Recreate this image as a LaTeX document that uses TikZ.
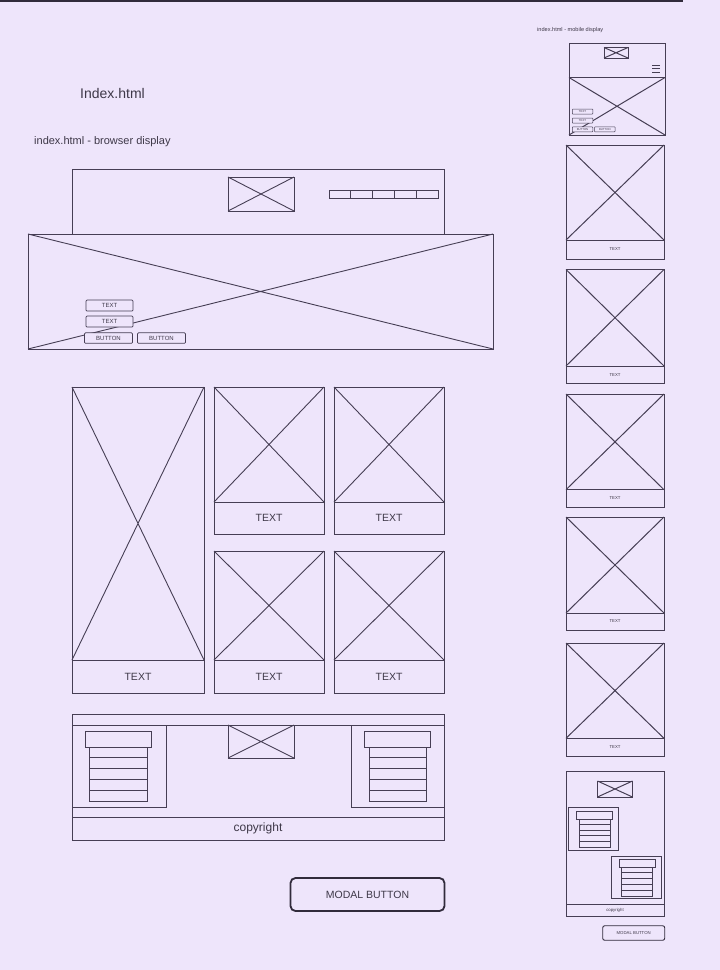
\documentclass[tikz,border=0pt]{standalone}
\usepackage{fontspec}
\setmainfont{Liberation Sans}
\definecolor{bg}{RGB}{238,229,251}
\definecolor{ln}{RGB}{70,62,84}
\definecolor{tx}{RGB}{62,56,72}
\tikzset{
  wf/.style={draw=ln, line width=0.9pt},
  mwf/.style={draw=ln, line width=1pt},
  wfthin/.style={draw=ln, line width=0.7pt},
  lbl/.style={font=\fontsize{10.5}{12}\selectfont, text=tx, inner sep=0},
  tinylbl/.style={font=\fontsize{4.3}{5}\selectfont, text=tx, inner sep=0},
  sbox/.style={draw=ln, line width=0.7pt, fill=bg, rounded corners=1pt,
    font=\fontsize{6}{7}\selectfont, text=tx, inner sep=0},
  msbox/.style={draw=ln, line width=0.5pt, fill=bg, rounded corners=0.6pt,
    font=\fontsize{2.8}{3}\selectfont, text=tx, inner sep=0},
}
% image box with a cross
\newcommand\wfXbox[5][wf]{%
  \draw[#1] (#2,#3) rectangle (#4,#5);
  \draw[#1] (#2,#3) -- (#4,#5) (#2,#5) -- (#4,#3);}
% card: x1,y1,x2,ydiv,y2,label style,name
\newcommand\wfCard[8][wf]{%
  \draw[#1] (#2,#3) rectangle (#4,#6);
  \draw[#1] (#2,#5) -- (#4,#5);
  \draw[#1] (#2,#3) -- (#4,#5) (#2,#5) -- (#4,#3);
  \node[#7] (#8) at ({(#2+#4)/2},{(#5+#6)/2}) {TEXT};}
% widget: capx1,capx2,capy1,capy2,stackx1,stackx2,stacky2,style
\newcommand\wfWidget[8]{%
  \draw[#8] (#1,#3) rectangle (#2,#4);
  \draw[#8] (#5,#4) rectangle (#6,#7);
  \foreach \k in {1,...,4}{\draw[#8] (#5,{#4+\k*(#7-#4)/5}) -- (#6,{#4+\k*(#7-#4)/5});}}
\begin{document}
\begin{tikzpicture}[x=1pt,y=-1pt]
\useasboundingbox (0,0) rectangle (720,970);
\fill[bg] (0,0) rectangle (720,970);
\draw[line width=1.6pt, ln!70!black] (0,1) -- (683,1);

% titles
\node[font=\fontsize{14}{16}\selectfont, text=tx, anchor=west, inner sep=0] (title) at (80,93) {Index.html};
\node[font=\fontsize{11}{13}\selectfont, text=tx, anchor=west, inner sep=0] (browser) at (34,142) {index.html - browser display};
\node[font=\fontsize{5.6}{6}\selectfont, text=tx, anchor=west, inner sep=0] (mobile) at (537,30) {index.html - mobile display};

% ===== browser header
\draw[wf] (72,169) rectangle (444,234);
\wfXbox{228}{177}{294}{211}
\foreach \i in {0,...,4}{\draw[wf] ({329+\i*21.9},190) rectangle ({329+(\i+1)*21.9},198);}
% hero
\wfXbox{28}{234}{493}{349}
\node[sbox, minimum width=47pt, minimum height=11pt] (ht1) at (109.5,305.5) {TEXT};
\node[sbox, minimum width=47pt, minimum height=11pt] (ht2) at (109.5,321.5) {TEXT};
\node[sbox, minimum width=48pt, minimum height=10.5pt] (hb1) at (108.5,338) {BUTTON};
\node[sbox, minimum width=48pt, minimum height=10.5pt] (hb2) at (161.5,338) {BUTTON};

% ===== grid
\wfCard{72}{387}{204}{660}{693}{lbl}{c1}
\wfCard{214}{387}{324}{502}{534}{lbl}{c2}
\wfCard{334}{387}{444}{502}{534}{lbl}{c3}
\wfCard{214}{551}{324}{660}{693}{lbl}{c4}
\wfCard{334}{551}{444}{660}{693}{lbl}{c5}

% ===== footer
\draw[wf] (72,714) rectangle (444,840);
\draw[wf] (72,725) -- (444,725);
\draw[wf] (72,817) -- (444,817);
\draw[wf] (72,725) rectangle (166,807);
\draw[wf] (351,725) rectangle (444,807);
\wfXbox{228}{725}{294}{758}
\wfWidget{85.5}{151.5}{731}{747}{89.5}{147.5}{801.5}{wf}
\wfWidget{364.5}{430.5}{731}{747}{369}{426.5}{801.5}{wf}
\node[font=\fontsize{12}{14}\selectfont, text=tx, inner sep=0] (copy) at (258,828.5) {copyright};

% modal button
\node[draw=ln!70!black, line width=1.8pt, rounded corners=5pt, minimum width=154pt, minimum height=33pt,
  font=\fontsize{10.5}{12}\selectfont, text=tx, inner sep=0] (modal) at (367.5,894.5) {MODAL BUTTON};

% ===== mobile header
\draw[mwf] (569,43.5) rectangle (665,135);
\draw[mwf] (569,77.5) -- (665,77.5);
\wfXbox[mwf]{604}{47.5}{628}{58}
\foreach \yy in {65,68.5,72}{\draw[wfthin] (652,\yy) -- (660,\yy);}
\draw[mwf] (569,77.5) -- (665,135) (569,135) -- (665,77.5);
\node[msbox, minimum width=20.5pt, minimum height=5pt] (mt1) at (582.5,111.5) {TEXT};
\node[msbox, minimum width=20.5pt, minimum height=5pt] (mt2) at (582.5,120.5) {TEXT};
\node[msbox, minimum width=20.5pt, minimum height=5pt] (mb1) at (582.5,129.3) {BUTTON};
\node[msbox, minimum width=20.5pt, minimum height=5pt] (mb2) at (604.8,129.3) {BUTTON};

% mobile cards
\wfCard[mwf]{566}{145}{664}{240}{259}{tinylbl}{m1}
\wfCard[mwf]{566}{269.5}{664}{366}{383.7}{tinylbl}{m2}
\wfCard[mwf]{566}{394}{664}{489.7}{507.3}{tinylbl}{m3}
\wfCard[mwf]{566}{517}{664}{613}{630}{tinylbl}{m4}
\wfCard[mwf]{566}{643}{664}{738.3}{756.7}{tinylbl}{m5}

% mobile footer
\draw[mwf] (566,771) rectangle (664,916);
\draw[mwf] (566,904) -- (664,904);
\wfXbox[mwf]{597.5}{781}{632.5}{797}
\draw[mwf] (568.5,807) rectangle (618.5,850.5);
\draw[mwf] (611.5,856) rectangle (661.5,898.5);
\wfWidget{576.5}{612.5}{811}{819}{579}{610.5}{847}{wfthin}
\wfWidget{619}{655}{859}{867}{621.5}{652.5}{896}{wfthin}
\node[tinylbl] (mcopy) at (615,910) {copyright};
\node[draw=ln!70!black, line width=0.9pt, rounded corners=2pt, minimum width=62pt, minimum height=14.5pt,
  font=\fontsize{4.3}{5}\selectfont, text=tx, inner sep=0] (mmodal) at (633.7,933) {MODAL BUTTON};
\end{tikzpicture}
\end{document}
